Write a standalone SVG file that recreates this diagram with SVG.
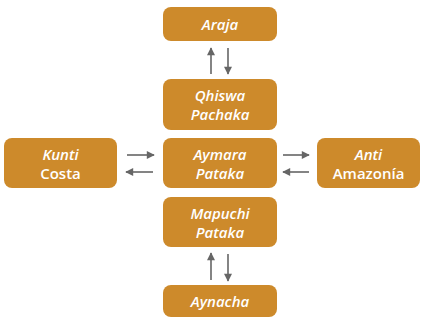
<svg xmlns="http://www.w3.org/2000/svg" width="424" height="320" viewBox="0 0 424 320">
<defs>
<style>
.box{fill:#CD8A2B;}
.t{font-family:"Open Sans","Liberation Sans",sans-serif;font-size:15px;font-weight:600;fill:#fff;text-anchor:middle;}
.i{font-style:italic;}
.c{stroke:#666;stroke-width:1.6;fill:none;marker-end:url(#ah);}
</style>
<marker id="ah" viewBox="0 0 10 10" refX="9" refY="5" markerWidth="5.5" markerHeight="5" orient="auto" markerUnits="strokeWidth">
<path d="M0,0 L10,5 L0,10 z" fill="#666"/>
</marker>
</defs>
<g id="araja"><rect class="box" x="163" y="7" width="114" height="34" rx="8"/><text class="t i" x="220" y="30">Araja</text></g>
<g id="qhiswa"><rect class="box" x="163" y="79" width="114" height="51" rx="8"/><text class="t i" x="220" y="101">Qhiswa</text><text class="t i" x="220" y="120">Pachaka</text></g>
<g id="aymara"><rect class="box" x="163" y="138" width="114" height="50" rx="8"/><text class="t i" x="220" y="159.5">Aymara</text><text class="t i" x="220" y="178.5">Pataka</text></g>
<g id="mapuchi"><rect class="box" x="163" y="197" width="114" height="50" rx="8"/><text class="t i" x="220" y="218.5">Mapuchi</text><text class="t i" x="220" y="237.5">Pataka</text></g>
<g id="aynacha"><rect class="box" x="163" y="285" width="114" height="32" rx="8"/><text class="t i" x="220" y="307">Aynacha</text></g>
<g id="kunti"><rect class="box" x="4" y="138" width="113" height="50" rx="8"/><text class="t i" x="60.5" y="159.5">Kunti</text><text class="t" x="60.5" y="178.5">Costa</text></g>
<g id="anti"><rect class="box" x="317" y="138" width="103" height="50" rx="8"/><text class="t i" x="368.5" y="159.5">Anti</text><text class="t" x="368.5" y="178.5">Amazonía</text></g>
<g id="connectors">
<line class="c" x1="211" y1="74" x2="211" y2="48"/>
<line class="c" x1="228" y1="48" x2="228" y2="74"/>
<line class="c" x1="211" y1="280" x2="211" y2="253"/>
<line class="c" x1="228" y1="254" x2="228" y2="281"/>
<line class="c" x1="127" y1="155" x2="154" y2="155"/>
<line class="c" x1="153" y1="172" x2="126" y2="172"/>
<line class="c" x1="283" y1="155" x2="309" y2="155"/>
<line class="c" x1="309" y1="172" x2="283" y2="172"/>
</g>
</svg>
